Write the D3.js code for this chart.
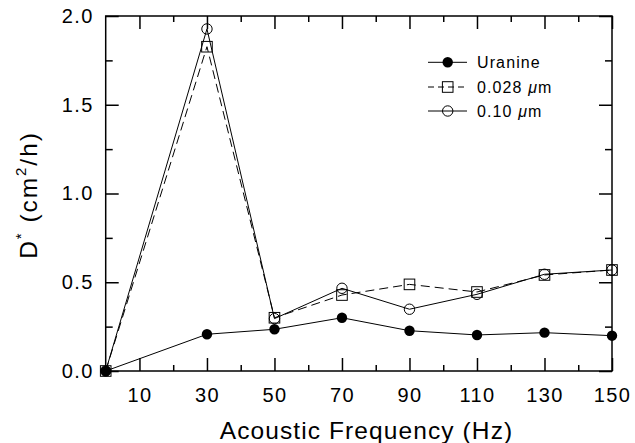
<!DOCTYPE html>
<html lang="en">
<head>
  <meta charset="UTF-8" />
  <title>D* vs Acoustic Frequency</title>
  <script src="https://d3js.org/d3.v7.min.js"></script>
  <style>
    body { margin: 0; background: #fff; }
    svg { display: block; }
    text {
      font-family: 'Liberation Sans', Arial, Helvetica, sans-serif;
      fill: #000;
      letter-spacing: 0.07em;
    }
    .title { letter-spacing: 0.045em; }
    .ytitle { letter-spacing: 0.08em; }
    .tick line, .frame { stroke: #000; stroke-width: 1.5px; }
  </style>
</head>
<body>
  <svg id="chart" width="635" height="443"></svg>

  <script>
    // Data
    const freq = [0, 30, 50, 70, 90, 110, 130, 150];
    const uranine = [0, 0.207, 0.235, 0.30, 0.227, 0.203, 0.216, 0.199];
    const p028 = [0, 1.827, 0.30, 0.428, 0.488, 0.445, 0.541, 0.569];
    const p010 = [0, 1.927, 0.295, 0.466, 0.348, 0.432, 0.545, 0.569];

    const xMajor = [10, 30, 50, 70, 90, 110, 130, 150];
    const xMinor = [20, 40, 60, 80, 100, 120, 140];
    const yMajor = [0, 0.5, 1.0, 1.5, 2.0];
    const yMinor = [0.25, 0.75, 1.25, 1.75];

    const series = [
      { name: "Uranine", unit: "", values: uranine, marker: "dot", dash: null },
      { name: "0.028 ", unit: "\u03bcm", values: p028, marker: "square", dash: "9,5" },
      { name: "0.10 ", unit: "\u03bcm", values: p010, marker: "circle", dash: null }
    ];

    const svg = d3.select("#chart");
    const plotL = 105.7, plotR = 612, plotT = 16, plotB = 371;

    const x = d3.scaleLinear().domain([0, 150]).range([plotL, plotR]);
    const y = d3.scaleLinear().domain([0, 2]).range([plotB, plotT]);

    // Axes (ticks pointing inward on all four sides)
    function axisGroup(axis, tx, ty) {
      const g = svg.append("g").attr("transform", `translate(${tx},${ty})`).call(axis);
      g.select(".domain").remove();
      g.selectAll("text").attr("font-size", 20).attr("font-family", null);
      return g;
    }

    axisGroup(d3.axisBottom(x).tickValues(xMajor).tickSize(-13).tickPadding(17), 0, plotB);
    axisGroup(d3.axisBottom(x).tickValues(xMinor).tickSize(-6).tickFormat(""), 0, plotB);
    axisGroup(d3.axisTop(x).tickValues(xMajor).tickSize(-13).tickFormat(""), 0, plotT);
    axisGroup(d3.axisTop(x).tickValues(xMinor).tickSize(-6).tickFormat(""), 0, plotT);

    axisGroup(d3.axisLeft(y).tickValues(yMajor).tickSize(-13).tickPadding(12).tickFormat(d3.format(".1f")), plotL, 0);
    axisGroup(d3.axisLeft(y).tickValues(yMinor).tickSize(-7).tickFormat(""), plotL, 0);
    axisGroup(d3.axisRight(y).tickValues(yMajor).tickSize(-13).tickFormat(""), plotR, 0);
    axisGroup(d3.axisRight(y).tickValues(yMinor).tickSize(-7).tickFormat(""), plotR, 0);

    svg.append("rect")
      .attr("class", "frame")
      .attr("x", plotL).attr("y", plotT)
      .attr("width", plotR - plotL).attr("height", plotB - plotT)
      .attr("fill", "none");

    // Markers
    function drawMarker(g, type, cx, cy) {
      if (type === "dot") {
        g.append("circle").attr("cx", cx).attr("cy", cy).attr("r", 5.2).attr("fill", "#000");
      } else if (type === "circle") {
        g.append("circle").attr("cx", cx).attr("cy", cy).attr("r", 5.2)
          .attr("fill", "none").attr("stroke", "#000").attr("stroke-width", 1);
      } else {
        g.append("rect").attr("x", cx - 5.3).attr("y", cy - 5.3).attr("width", 10.6).attr("height", 10.6)
          .attr("fill", "none").attr("stroke", "#000").attr("stroke-width", 1);
      }
    }

    const line = d3.line().x(d => x(d[0])).y(d => y(d[1]));

    series.forEach(s => {
      const pts = freq.map((f, i) => [f, s.values[i]]);
      svg.append("path")
        .datum(pts)
        .attr("d", line)
        .attr("fill", "none")
        .attr("stroke", "#000")
        .attr("stroke-width", 1)
        .attr("stroke-dasharray", s.dash);
      const g = svg.append("g");
      pts.forEach(p => drawMarker(g, s.marker, x(p[0]), y(p[1])));
    });

    // Legend
    const legendY = [62.3, 87, 111];
    series.forEach((s, i) => {
      const g = svg.append("g").attr("transform", `translate(0,${legendY[i]})`);
      g.append("line").attr("x1", 428).attr("x2", 467).attr("y1", 0).attr("y2", 0)
        .attr("stroke", "#000").attr("stroke-width", 1)
        .attr("stroke-dasharray", s.dash ? "6,4" : null);
      drawMarker(g, s.marker, 447.7, 0);
      const t = g.append("text").attr("x", 477).attr("y", 0).attr("dy", "0.35em").attr("font-size", 16);
      t.append("tspan").text(s.name);
      if (s.unit) {
        t.append("tspan").attr("font-style", "italic").text(s.unit[0]);
        t.append("tspan").text(s.unit.slice(1));
      }
    });

    // Axis titles
    svg.append("text")
      .attr("class", "title")
      .attr("x", 366.5)
      .attr("y", 439)
      .attr("text-anchor", "middle")
      .attr("font-size", 24.5)
      .text("Acoustic Frequency (Hz)");

    const yt = svg.append("text")
      .attr("class", "ytitle")
      .attr("transform", "translate(37,195) rotate(-90)")
      .attr("text-anchor", "middle")
      .attr("font-size", 24.5);
    yt.append("tspan").text("D");
    yt.append("tspan").attr("font-size", 15).attr("dy", -11).text("*");
    yt.append("tspan").attr("dy", 11).text(" (cm");
    yt.append("tspan").attr("font-size", 15).attr("dy", -11).text("2");
    yt.append("tspan").attr("dy", 11).text("/h)");
  </script>
</body>
</html>
